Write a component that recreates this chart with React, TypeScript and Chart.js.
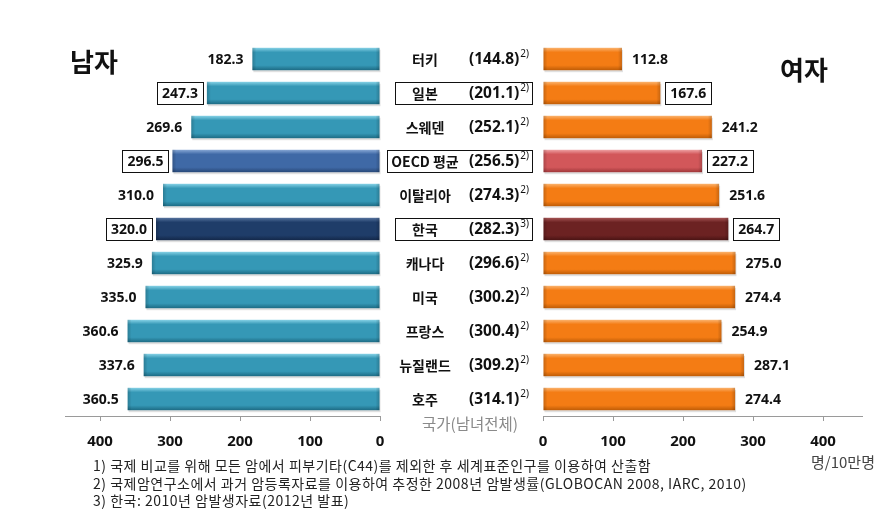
import React, { useEffect, useRef } from 'react';
import { Chart, registerables } from 'chart.js';

Chart.register(...registerables);

// ---------- data ----------
const countries = ['터키', '일본', '스웨덴', 'OECD 평균', '이탈리아', '한국', '캐나다', '미국', '프랑스', '뉴질랜드', '호주'];
const totals = ['144.8', '201.1', '252.1', '256.5', '274.3', '282.3', '296.6', '300.2', '300.4', '309.2', '314.1'];
const totalNotes = ['2)', '2)', '2)', '2)', '2)', '3)', '2)', '2)', '2)', '2)', '2)'];
const male = [182.3, 247.3, 269.6, 296.5, 310.0, 320.0, 325.9, 335.0, 360.6, 337.6, 360.5];
const female = [112.8, 167.6, 241.2, 227.2, 251.6, 264.7, 275.0, 274.4, 254.9, 287.1, 274.4];
const kinds = ['n', 'box', 'n', 'oecd', 'n', 'kor', 'n', 'n', 'n', 'n', 'n'];
const axisTicks = [0, 100, 200, 300, 400];
const footnotes = [
  '1) 국제 비교를 위해 모든 암에서 피부기타(C44)를 제외한 후 세계표준인구를 이용하여 산출함',
  '2) 국제암연구소에서 과거 암등록자료를 이용하여 추정한 2008년 암발생률(GLOBOCAN 2008, IARC, 2010)',
  '3) 한국: 2010년 암발생자료(2012년 발표)',
];

type Pal = { light: string; base: string; dark: string };
const malePal: Record<string, Pal> = {
  n: { light: '#86d2e6', base: '#3598b6', dark: '#1d6b84' },
  box: { light: '#86d2e6', base: '#3598b6', dark: '#1d6b84' },
  oecd: { light: '#86a6d4', base: '#3f69a6', dark: '#284878' },
  kor: { light: '#56739e', base: '#1f3d69', dark: '#13284a' },
};
const femalePal: Record<string, Pal> = {
  n: { light: '#fbb36e', base: '#f47c14', dark: '#bf5c06' },
  box: { light: '#fbb36e', base: '#f47c14', dark: '#bf5c06' },
  oecd: { light: '#eea0a2', base: '#d2575a', dark: '#a0373a' },
  kor: { light: '#a55454', base: '#6c2222', dark: '#4a1414' },
};

const NUM_FONT = '"Noto Sans", "Noto Sans CJK KR", sans-serif';
const KR_FONT = '"Noto Sans CJK KR", "Noto Sans", sans-serif';

function drawBars(chart: any, values: number[], pal: Record<string, Pal>, side: 'L' | 'R') {
  const ctx: CanvasRenderingContext2D = chart.ctx;
  const meta = chart.getDatasetMeta(0);
  ctx.save();
  meta.data.forEach((el: any, i: number) => {
    const p = el.getProps(['x', 'y', 'base', 'height'], true);
    const left = Math.min(p.x, p.base);
    const right = Math.max(p.x, p.base);
    const top = p.y - p.height / 2;
    const bot = p.y + p.height / 2;
    const c = pal[kinds[i]];
    // shadow
    ctx.fillStyle = 'rgba(0,0,0,0.12)';
    ctx.fillRect(left + 1, top + 2, right - left, bot - top);
    const g = ctx.createLinearGradient(0, top, 0, bot);
    g.addColorStop(0, c.light);
    g.addColorStop(0.2, c.base);
    g.addColorStop(0.78, c.base);
    g.addColorStop(1, c.dark);
    ctx.fillStyle = g;
    ctx.fillRect(left, top, right - left, bot - top);
    // ends darkening
    const ge = ctx.createLinearGradient(left, 0, right, 0);
    const endW = 4 / Math.max(1, right - left);
    ge.addColorStop(0, 'rgba(0,0,0,0.18)');
    ge.addColorStop(endW, 'rgba(0,0,0,0)');
    ge.addColorStop(1 - endW, 'rgba(0,0,0,0)');
    ge.addColorStop(1, 'rgba(0,0,0,0.18)');
    ctx.fillStyle = ge;
    ctx.fillRect(left, top, right - left, bot - top);

    // value labels
    const txt = values[i].toFixed(1);
    ctx.font = `bold 14px ${NUM_FONT}`;
    ctx.fillStyle = '#111';
    ctx.textBaseline = 'middle';
    const w = ctx.measureText(txt).width;
    let tx: number;
    if (side === 'L') {
      ctx.textAlign = 'right';
      tx = left - 9;
      ctx.fillText(txt, tx, p.y + 1);
      if (kinds[i] !== 'n') {
        ctx.strokeStyle = '#111';
        ctx.lineWidth = 1;
        ctx.strokeRect(Math.round(tx - w - 5) + 0.5, Math.round(p.y - 11) + 0.5, Math.round(w + 10), 22);
      }
    } else {
      ctx.textAlign = 'left';
      tx = right + 10;
      ctx.fillText(txt, tx, p.y + 1);
      if (kinds[i] !== 'n') {
        ctx.strokeStyle = '#111';
        ctx.lineWidth = 1;
        ctx.strokeRect(Math.round(tx - 5) + 0.5, Math.round(p.y - 11) + 0.5, Math.round(w + 10), 22);
      }
    }
  });
  ctx.restore();
}

function drawCenter(chart: any) {
  const ctx: CanvasRenderingContext2D = chart.ctx;
  const yScale = chart.scales.y;
  ctx.save();
  ctx.textBaseline = 'middle';
  countries.forEach((name, i) => {
    const y = yScale.getPixelForValue(i);
    ctx.font = `bold 14px ${KR_FONT}`;
    ctx.fillStyle = '#111';
    ctx.textAlign = 'center';
    const nameX = 44;
    const nw = ctx.measureText(name).width;
    ctx.fillText(name, nameX, y + 1);
    ctx.font = `bold 15.5px ${NUM_FONT}`;
    ctx.textAlign = 'left';
    const vt = '(' + totals[i] + ')';
    const vx = 88;
    ctx.fillText(vt, vx, y + 1);
    const vw = ctx.measureText(vt).width;
    ctx.font = `10px ${NUM_FONT}`;
    ctx.fillText(totalNotes[i], vx + vw + 1, y - 5);
    if (kinds[i] !== 'n') {
      const bl = Math.min(14, nameX - nw / 2 - 4);
      ctx.strokeStyle = '#111';
      ctx.lineWidth = 1;
      ctx.strokeRect(Math.round(bl) + 0.5, Math.round(y - 11) + 0.5, Math.round(151 - bl), 22);
    }
  });
  ctx.restore();
}

function xScaleOpts(reverse: boolean, max: number) {
  return {
    type: 'linear' as const,
    reverse,
    min: 0,
    max,
    afterBuildTicks: (scale: any) => {
      scale.ticks = axisTicks.map((v) => ({ value: v }));
    },
    afterFit: (scale: any) => {
      scale.height = 40;
    },
    grid: { drawOnChartArea: false, drawTicks: true, tickLength: 5, color: '#9a9a9a' },
    border: { display: true, color: '#9a9a9a', width: 1 },
    ticks: {
      padding: 12,
      color: '#111',
      font: { family: NUM_FONT, size: 15, weight: 'bold' as const },
      maxRotation: 0,
    },
  };
}

export default function App() {
  const leftRef = useRef<HTMLCanvasElement>(null);
  const rightRef = useRef<HTMLCanvasElement>(null);

  useEffect(() => {
    const baseOpts = (side: 'L' | 'R', values: number[], pal: Record<string, Pal>, pad: any, max: number) => ({
      type: 'bar' as const,
      data: {
        labels: countries,
        datasets: [
          {
            data: values,
            backgroundColor: 'rgba(0,0,0,0)',
            borderWidth: 0,
            categoryPercentage: 1,
            barPercentage: 0.66,
          },
        ],
      },
      options: {
        indexAxis: 'y' as const,
        responsive: false,
        animation: false as const,
        devicePixelRatio: 1,
        layout: { padding: pad },
        plugins: { legend: { display: false }, tooltip: { enabled: false }, title: { display: false } },
        scales: {
          x: xScaleOpts(side === 'L', max),
          y: { type: 'category' as const, display: false, offset: true },
        },
      },
      plugins: [
        {
          id: 'custom' + side,
          afterDatasetsDraw(chart: any) {
            drawBars(chart, values, pal, side);
            if (side === 'R') drawCenter(chart);
          },
        },
      ],
    });

    const lc = new Chart(leftRef.current!, baseOpts('L', male, malePal, { left: 65, right: 6, top: 42, bottom: 72 }, 450) as any);
    const rc = new Chart(rightRef.current!, baseOpts('R', female, femalePal, { left: 162, right: 30, top: 42, bottom: 72 }, 455.7) as any);
    return () => {
      lc.destroy();
      rc.destroy();
    };
  }, []);

  return (
    <div style={{ position: 'absolute', left: 0, top: 0, width: 892, height: 528, background: '#fff', overflow: 'hidden' }}>
      <canvas ref={leftRef} width={386} height={528} style={{ position: 'absolute', left: 0, top: 0 }} />
      <canvas ref={rightRef} width={511} height={528} style={{ position: 'absolute', left: 381, top: 0 }} />
      <div style={{ position: 'absolute', left: 70, top: 47, fontFamily: KR_FONT, fontWeight: 'bold', fontSize: 26, lineHeight: '28px', color: '#111' }}>남자</div>
      <div style={{ position: 'absolute', left: 780, top: 55, fontFamily: KR_FONT, fontWeight: 'bold', fontSize: 26, lineHeight: '28px', color: '#111' }}>여자</div>
      <div style={{ position: 'absolute', left: 410, top: 413, width: 120, textAlign: 'center', fontFamily: KR_FONT, fontSize: 15.5, lineHeight: '20px', color: '#8a8a8a', whiteSpace: 'nowrap' }}>국가(남녀전체)</div>
      <div style={{ position: 'absolute', left: 811, top: 453, fontFamily: KR_FONT, fontSize: 15, lineHeight: '18px', color: '#444', whiteSpace: 'nowrap' }}>명/10만명</div>
      <div style={{ position: 'absolute', left: 93, top: 457, fontFamily: KR_FONT, fontSize: 14, letterSpacing: '0.5px', lineHeight: '17.5px', color: '#222', whiteSpace: 'nowrap' }}>
        {footnotes.map((f, i) => (
          <div key={i}>{f}</div>
        ))}
      </div>
    </div>
  );
}
